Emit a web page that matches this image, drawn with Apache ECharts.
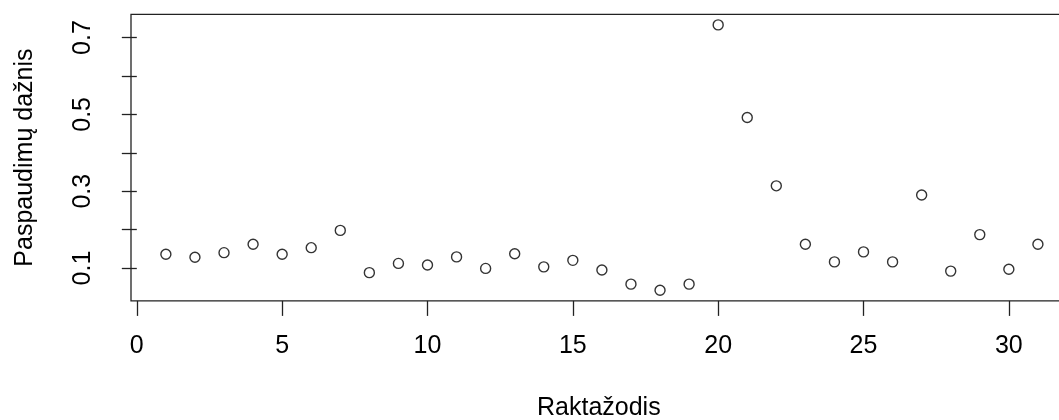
<!DOCTYPE html>
<html>
<head>
<meta charset="utf-8">
<script src="https://cdn.jsdelivr.net/npm/echarts@6/dist/echarts.min.js"></script>
<style>html,body{margin:0;padding:0;background:#fff;}#c{width:1059px;height:420px;}</style>
</head>
<body>
<div id="c"></div>
<script>
const keywordIndex = [1,2,3,4,5,6,7,8,9,10,11,12,13,14,15,16,17,18,19,20,21,22,23,24,25,26,27,28,29,30,31];
const clickRate = [0.136,0.128,0.140,0.162,0.136,0.153,0.198,0.088,0.112,0.108,0.129,0.099,0.137,0.103,0.120,0.095,0.058,0.042,0.058,0.733,0.492,0.314,0.162,0.116,0.142,0.116,0.290,0.092,0.187,0.097,0.162];
const xTicks = [0,5,10,15,20,25,30];
const yTicks = [0.1,0.2,0.3,0.4,0.5,0.6,0.7];
const yLabels = [0.1,0.3,0.5,0.7];
const xTitle = 'Raktažodis';
const yTitle = 'Paspaudimų dažnis';

const FONT = 'Liberation Sans, Arial, sans-serif';
const FS = 25;
const chart = echarts.init(document.getElementById('c'), null, {renderer:'canvas'});
chart.setOption({
  animation: false,
  backgroundColor: '#fff',
  grid: {left: 131, top: 14.3, width: 941.8, height: 286.6, outerBoundsMode: 'none', containLabel: false, show: true, borderColor: '#222', borderWidth: 1.3, backgroundColor: 'transparent'},
  xAxis: {
    type: 'value', min: -0.2, max: 32.2,
    axisLine: {show: false},
    splitLine: {show: false},
    axisTick: {show: true, customValues: xTicks, length: 15, inside: false, lineStyle: {color: '#222', width: 1.3}},
    axisLabel: {customValues: xTicks, color: '#000', fontFamily: FONT, fontSize: FS, margin: 33}
  },
  yAxis: {
    type: 'value', min: 0.0144, max: 0.7606,
    axisLine: {show: false},
    splitLine: {show: false},
    axisTick: {show: true, customValues: yTicks, length: 15, lineStyle: {color: '#222', width: 1.3}},
    axisLabel: {customValues: yLabels, rotate: 90, color: '#000', fontFamily: FONT, fontSize: FS, margin: 35},
    name: yTitle, nameLocation: 'middle', nameRotate: 90, nameGap: 93,
    nameTextStyle: {color: '#000', fontFamily: FONT, fontSize: FS}
  },
  graphic: [{
    type: 'text', x: 537, y: 408,
    style: {text: xTitle, fill: '#000', font: FS + 'px ' + FONT, textAlign: 'left', textVerticalAlign: 'middle'}
  }],
  series: [{
    type: 'scatter',
    data: keywordIndex.map((k, i) => [k, clickRate[i]]),
    symbol: 'circle', symbolSize: 10,
    itemStyle: {color: 'transparent', borderColor: '#000', borderWidth: 1.4},
    clip: false
  }]
});
</script>
</body>
</html>
